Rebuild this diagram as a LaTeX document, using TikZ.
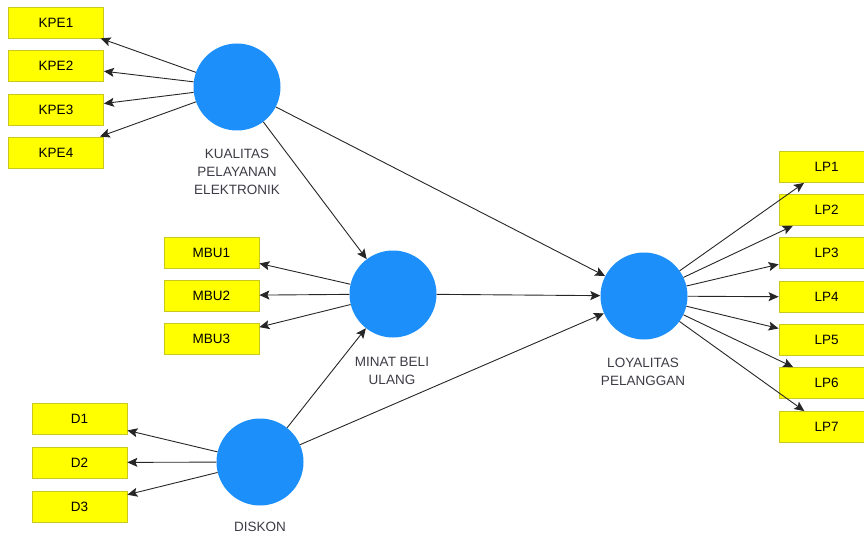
\documentclass[tikz,border=0pt]{standalone}
\usepackage{fontspec}
\setmainfont{Liberation Sans}
\usetikzlibrary{arrows.meta}
\definecolor{boxyellow}{RGB}{255,255,0}
\definecolor{boxedge}{RGB}{200,200,30}
\definecolor{latentblue}{RGB}{28,143,250}
\definecolor{labelgray}{RGB}{60,60,70}
\begin{document}
\begin{tikzpicture}[x=1pt,y=-1pt,
  indicator/.style={rectangle,draw=boxedge,fill=boxyellow,line width=0.8pt,
    minimum width=95pt,minimum height=31pt,inner sep=0pt,
    font=\fontsize{13.5}{15}\selectfont,text=black},
  latent/.style={circle,fill=latentblue,minimum size=87pt,inner sep=0pt},
  lvlabel/.style={align=center,font=\fontsize{13.5}{18}\selectfont,text=labelgray},
  link/.style={draw=black!85,line width=0.9pt,-{Stealth[length=10pt,width=9pt,inset=2pt]}}]
\useasboundingbox (0,0) rectangle (864,540);
% latent variables
\node[latent] (kpe) at (237,87) {};
\node[latent] (mbu) at (393,294) {};
\node[latent] (lp) at (644,296) {};
\node[latent] (d) at (260,462) {};
% labels
\node[lvlabel] (kpel) at (237,172) {KUALITAS\\PELAYANAN\\ELEKTRONIK};
\node[lvlabel] (mbul) at (392,371) {MINAT BELI\\ULANG};
\node[lvlabel] (lpl) at (643,372) {LOYALITAS\\PELANGGAN};
\node[lvlabel] (dl) at (260,527) {DISKON};
% indicators
\node[indicator] (kpe1) at (56,22.5) {KPE1};
\node[indicator] (kpe2) at (56,65.5) {KPE2};
\node[indicator] (kpe3) at (56,109.5) {KPE3};
\node[indicator] (kpe4) at (56,152.5) {KPE4};
\node[indicator] (mbu1) at (211.5,252.5) {MBU1};
\node[indicator] (mbu2) at (211.5,295.5) {MBU2};
\node[indicator] (mbu3) at (211.5,339) {MBU3};
\node[indicator] (d1) at (79.5,419) {D1};
\node[indicator] (d2) at (79.5,462.5) {D2};
\node[indicator] (d3) at (79.5,506.5) {D3};
\node[indicator] (lp1) at (826.5,167) {LP1};
\node[indicator] (lp2) at (826.5,210) {LP2};
\node[indicator] (lp3) at (826.5,253) {LP3};
\node[indicator] (lp4) at (826.5,297) {LP4};
\node[indicator] (lp5) at (826.5,340) {LP5};
\node[indicator] (lp6) at (826.5,383) {LP6};
\node[indicator] (lp7) at (826.5,427) {LP7};
% outer model
\foreach \i in {1,...,4} \draw[link] (kpe) -- (kpe\i);
\foreach \i in {1,...,3} \draw[link] (mbu) -- (mbu\i);
\foreach \i in {1,...,3} \draw[link] (d) -- (d\i);
\foreach \i in {1,...,7} \draw[link] (lp) -- (lp\i);
% inner model
\draw[link] (kpe) -- (mbu);
\draw[link] (kpe) -- (lp);
\draw[link] (mbu) -- (lp);
\draw[link] (d) -- (mbu);
\draw[link] (d) -- (lp);
\end{tikzpicture}
\end{document}
